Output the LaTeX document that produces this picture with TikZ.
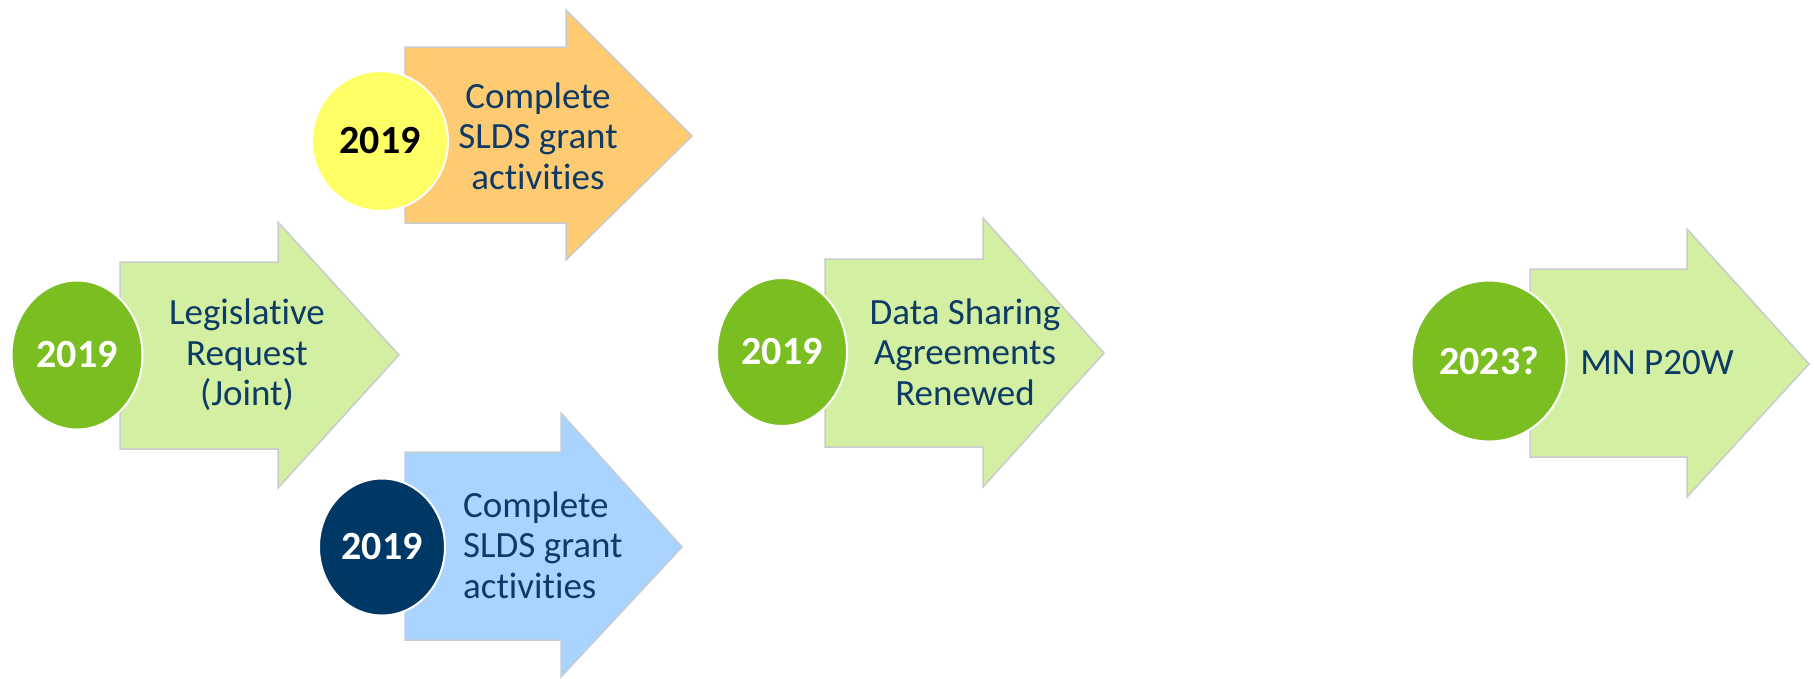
\documentclass[tikz,border=0pt]{standalone}
\usepackage{fontspec}
\setmainfont{Carlito}[RawFeature=-liga]
\usetikzlibrary{shapes.geometric}
\definecolor{txtblue}{HTML}{0E3A66}
\definecolor{lgreen}{HTML}{D3F0A2}
\definecolor{dgreen}{HTML}{7BBE22}
\definecolor{lorange}{HTML}{FFCB72}
\definecolor{lyellow}{HTML}{FFFF66}
\definecolor{lblue}{HTML}{A9D4FF}
\definecolor{navy}{HTML}{003865}
\definecolor{edgegray}{HTML}{C8CBD0}
\tikzset{
  arrowbody/.style={draw=edgegray, line width=1.5pt, line join=miter},
  yearcirc/.style={ellipse, draw=white, line width=2pt, inner sep=0pt,
     font=\fontsize{40}{42}\selectfont\bfseries, text=white},
  label/.style={align=center, text=txtblue, font=\fontsize{37}{40.5}\selectfont, inner sep=0pt},
}
\begin{document}
\begin{tikzpicture}[x=1pt,y=-1pt]
\useasboundingbox (0,0) rectangle (1814,678);
% arrows
\draw[arrowbody, fill=lorange] (405,47) -- (566,47) -- (566,10) -- (692,136) -- (566,260) -- (566,223) -- (405,223) -- cycle;
\draw[arrowbody, fill=lgreen] (120,262) -- (278,262) -- (278,222) -- (399,355) -- (278,488) -- (278,449) -- (120,449) -- cycle;
\draw[arrowbody, fill=lgreen] (825,259) -- (983,259) -- (983,218) -- (1104,353) -- (983,487) -- (983,447) -- (825,447) -- cycle;
\draw[arrowbody, fill=lgreen] (1530,269) -- (1687,269) -- (1687,229) -- (1809,364) -- (1687,497) -- (1687,457) -- (1530,457) -- cycle;
\draw[arrowbody, fill=lblue] (405,452) -- (561,452) -- (561,413) -- (682,547) -- (561,677) -- (561,640) -- (405,640) -- cycle;
% circles
\node[yearcirc, fill=lyellow, text=black, minimum width=136pt, minimum height=140pt] (c1) at (380,141) {2019};
\node[yearcirc, fill=dgreen, minimum width=131pt, minimum height=149pt] (c2) at (77,355) {2019};
\node[yearcirc, fill=dgreen, minimum width=130pt, minimum height=148pt] (c3) at (782,352) {2019};
\node[yearcirc, fill=dgreen, minimum width=155pt, minimum height=161pt] (c4) at (1489,361) {2023?};
\node[yearcirc, fill=navy, minimum width=126pt, minimum height=137pt] (c5) at (382,547) {2019};
% labels
\node[label] (t1) at (538,136) {Complete\\SLDS grant\\activities};
\node[label] (t2) at (247,355) {Legislative\\Request\\(Joint)};
\node[label] (t3) at (965,352) {Data Sharing\\Agreements\\Renewed};
\node[label] (t4) at (1657,363) {MN P20W};
\node[label, align=left, anchor=west] (t5) at (463,545) {Complete\\SLDS grant\\activities};
\end{tikzpicture}
\end{document}
